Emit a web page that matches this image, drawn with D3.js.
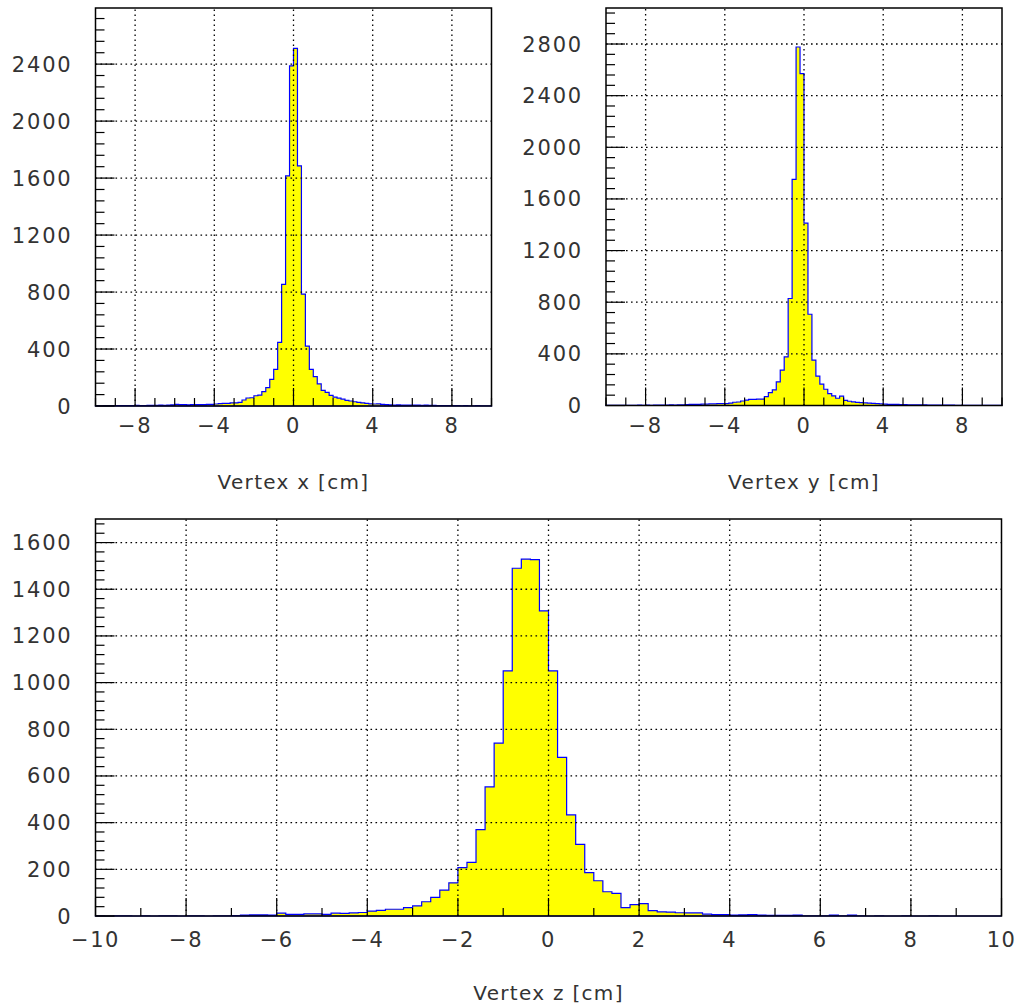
<!DOCTYPE html>
<html><head><meta charset="utf-8">
<script src="https://cdn.jsdelivr.net/npm/d3@7"></script>
<style>
html,body{margin:0;padding:0;background:#fff;}
svg text{font-family:"DejaVu Sans",sans-serif;fill:#333;}
</style></head>
<body><svg id="c" width="1021" height="1007"></svg>
<script>
// bin edges: 100 bins of 0.2 cm from -10 to 10
const binLo = -10, binWidth = 0.2;
const xCounts = [2,1,3,2,2,3,2,3,2,3,4,3,3,4,4, 5,6,5,7,8, 12,10,9,8,9, 9,10,10,11,12,
  14,16,18,19,22, 22,26,42,56,58, 72,77,101,129,187, 257,447,854,1616,2388,
  2510,1686,786,421,257, 206,155,110,95,75, 62,55,48,40,35, 30,25,22,18,15,
  14,15,12,10,8, 7,8,6,7,6, 7,6,5,6,4, 4,3,3,2,3, 2,2,1,2,1, 1,2,1,1,1];
const yCounts = [1,2,1,2,2,1,2,2,3,2,3,2,3,3,4, 4,5,4,6,6, 7,8,8,9,10, 10,12,12,14,15,
  14,18,25,27,35, 41,47,48,49,50, 68,100,121,183,274, 377,829,1752,2777,2570,
  1412,707,352,227,165, 126,92,74,56,72, 40,33,28,24,22, 20,18,16,14,12,
  10,9,8,8,7, 7,6,6,5,5, 5,4,4,4,3, 3,3,3,2,2, 2,2,2,1,1, 1,1,1,1,1];
const zCounts = [1,0,1,1,0,1,0,1,1,0,1,1,0,1,1,2, 4,5,5,4,
  12,7,7,9,9,7,12,11,13,15, 21,24,29,29,36,43,61,80,111,142,
  207,230,370,553,741,1050,1490,1529,1527,1307, 1050,680,433,307,186,151,104,97,36,49,
  53,23,18,17,14,13,13,8,6,6, 4,5,6,4,3,3,3,4,1,1, 1,4,1,4,1,0,1,0,0,1, 0,0,1,0,0,0,0,0,0,0];

const topXTicks = [-8,-4,0,4,8];
const botXTicks = [-10,-8,-6,-4,-2,0,2,4,6,8,10];
const xYTicks = [0,400,800,1200,1600,2000,2400];
const yYTicks = [0,400,800,1200,1600,2000,2400,2800];
const zYTicks = [0,200,400,600,800,1000,1200,1400,1600];
const titles = ["Vertex x [cm]","Vertex y [cm]","Vertex z [cm]"];

const svg = d3.select("#c");
const fmt = v => (v < 0 ? "\u2212" + Math.abs(v) : String(v));

function panel(cfg){
  const x = d3.scaleLinear().domain([-10,10]).range([cfg.x0,cfg.x1]);
  const y = d3.scaleLinear().domain([0,cfg.ymax]).range([cfg.yb,cfg.yt]);
  const g = svg.append("g");
  // histogram
  let p = d3.path();
  p.moveTo(x(binLo), y(0));
  cfg.data.forEach((v,i)=>{
    const lo = binLo + i*binWidth, hi = lo + binWidth;
    p.lineTo(x(lo), y(v)); p.lineTo(x(hi), y(v));
  });
  p.lineTo(x(binLo + cfg.data.length*binWidth), y(0));
  p.closePath();
  g.append("path").attr("d", p.toString()).attr("fill","#ffff00")
    .attr("stroke","#0000ff").attr("stroke-width",1.2).attr("stroke-linejoin","miter");
  // grid
  const grid = g.append("g").attr("stroke","#000").attr("stroke-width",1.3).attr("stroke-dasharray","1.6,3.4");
  cfg.xGrid.forEach(t=>{ if(t>-10 && t<10) grid.append("line").attr("x1",x(t)).attr("x2",x(t)).attr("y1",cfg.yb).attr("y2",cfg.yt); });
  cfg.yTicks.forEach(t=>{ if(t>0) grid.append("line").attr("x1",cfg.x0).attr("x2",cfg.x1).attr("y1",y(t)).attr("y2",y(t)); });
  // ticks
  const tk = g.append("g").attr("stroke","#000").attr("stroke-width",1.2);
  for(let v=-10; v<=10; v+=1){
    const major = cfg.xGrid.indexOf(v) >= 0;
    tk.append("line").attr("x1",x(v)).attr("x2",x(v)).attr("y1",cfg.yb).attr("y2",cfg.yb-(major?18:8));
  }
  const yMajStep = cfg.yTicks[1]-cfg.yTicks[0], yMin = yMajStep/5;
  for(let v=0; v<=cfg.ymax; v+=yMin){
    const major = Math.abs(v/yMajStep - Math.round(v/yMajStep))<1e-6;
    tk.append("line").attr("x1",cfg.x0).attr("x2",cfg.x0+(major?19:9)).attr("y1",y(v)).attr("y2",y(v));
  }
  // frame
  g.append("rect").attr("x",cfg.x0).attr("y",cfg.yt).attr("width",cfg.x1-cfg.x0).attr("height",cfg.yb-cfg.yt)
    .attr("fill","none").attr("stroke","#000").attr("stroke-width",1.5);
  // labels
  cfg.xGrid.forEach(t=>{
    g.append("text").attr("x",x(t)).attr("y",cfg.yb+cfg.xLabDy).attr("text-anchor","middle")
      .attr("font-size",21).attr("letter-spacing",1.5).text(fmt(t));
  });
  cfg.yTicks.forEach(t=>{
    g.append("text").attr("x",cfg.x0-23).attr("y",y(t)+7.5).attr("text-anchor","end")
      .attr("font-size",21).attr("letter-spacing",1.8).text(fmt(t));
  });
  g.append("text").attr("x",(cfg.x0+cfg.x1)/2).attr("y",cfg.titleY).attr("text-anchor","middle")
    .attr("font-size",20).attr("letter-spacing",1.3).text(cfg.title);
}

panel({x0:95.5,x1:491.5,yt:8,yb:406,ymax:2794,data:xCounts,xGrid:topXTicks,yTicks:xYTicks,xLabDy:27,titleY:489,title:titles[0]});
panel({x0:606,x1:1002,yt:8,yb:405.5,ymax:3079,data:yCounts,xGrid:topXTicks,yTicks:yYTicks,xLabDy:27,titleY:489,title:titles[1]});
panel({x0:95.5,x1:1001.5,yt:519,yb:916,ymax:1701,data:zCounts,xGrid:botXTicks,yTicks:zYTicks,xLabDy:31,titleY:1000,title:titles[2]});
</script></body></html>
